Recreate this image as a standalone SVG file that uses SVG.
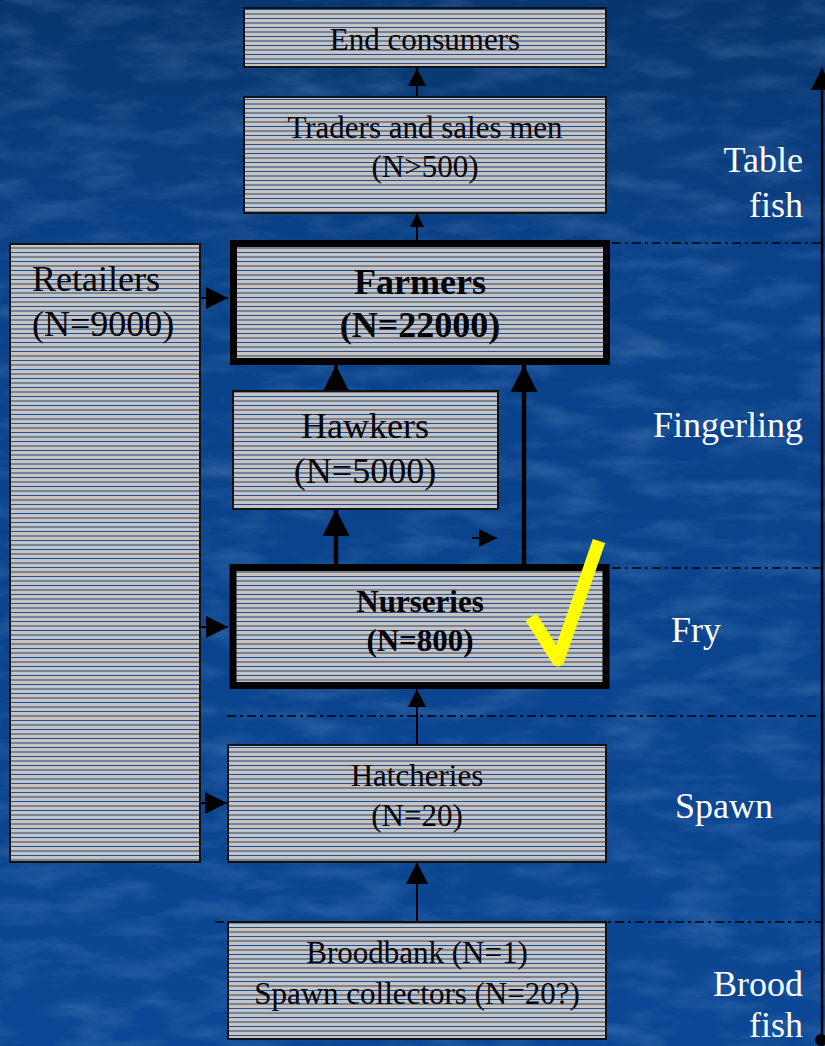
<svg xmlns="http://www.w3.org/2000/svg" width="825" height="1046" viewBox="0 0 825 1046">
<style>
.box{fill:url(#hatch);stroke:#111;stroke-width:2}
.bold{fill:url(#hatch);stroke:#000;stroke-width:7}
.t{font-family:"Liberation Serif","Times New Roman",serif;fill:#000;text-anchor:middle}
.s{font-size:31px}
.l{font-size:36px}
.b{font-weight:bold}
.w{font-family:"Liberation Serif","Times New Roman",serif;fill:#fff;font-size:36px}
.c{stroke:#000;fill:none}
.dd{stroke:#000;stroke-width:1.6;stroke-dasharray:9 4 3 4;fill:none}
</style>
<defs>
<linearGradient id="bg" x1="0" y1="0" x2="0" y2="1">
<stop offset="0" stop-color="#07366e"/>
<stop offset="0.25" stop-color="#0a4289"/>
<stop offset="1" stop-color="#0b4794"/>
</linearGradient>
<filter id="tex" x="0" y="0" width="100%" height="100%">
<feTurbulence type="fractalNoise" baseFrequency="0.015 0.05" numOctaves="4" seed="7"/>
<feColorMatrix type="matrix" values="0 0 0 0 0.4  0 0 0 0 0.6  0 0 0 0 0.9  0 0 0 1.3 -0.55"/>
</filter>
<pattern id="hatch" patternUnits="userSpaceOnUse" width="10" height="9">
<rect width="10" height="9" fill="#c4c4c4"/>
<rect y="0" width="10" height="1" fill="#1c4c9c"/>
<rect y="4.5" width="10" height="1" fill="#344058"/>
</pattern>
<marker id="m18" viewBox="0 0 20 20" refX="20" refY="10" markerWidth="18" markerHeight="18" markerUnits="userSpaceOnUse" orient="auto"><path d="M0,0 L20,10 L0,20 Z"/></marker>
<marker id="m14" viewBox="0 0 20 20" refX="20" refY="10" markerWidth="14" markerHeight="14" markerUnits="userSpaceOnUse" orient="auto"><path d="M0,0 L20,10 L0,20 Z"/></marker>
<marker id="m22" viewBox="0 0 20 20" refX="20" refY="10" markerWidth="22" markerHeight="22" markerUnits="userSpaceOnUse" orient="auto"><path d="M0,0 L20,10 L0,20 Z"/></marker>
<marker id="m27" viewBox="0 0 20 20" refX="20" refY="10" markerWidth="27" markerHeight="27" markerUnits="userSpaceOnUse" orient="auto"><path d="M0,0 L20,10 L0,20 Z"/></marker>
</defs>
<rect width="825" height="1046" fill="url(#bg)"/>
<rect width="825" height="1046" filter="url(#tex)" opacity="0.3"/>

<g id="dividers">
<line class="dd" x1="612" y1="243" x2="822" y2="243"/>
<line class="dd" x1="612" y1="568" x2="822" y2="568"/>
<line class="dd" x1="227" y1="716" x2="822" y2="716"/>
<line class="dd" x1="215" y1="922" x2="822" y2="922"/>
</g>

<g id="connectors">
<line class="c" stroke-width="2" x1="417" y1="97" x2="417" y2="68" marker-end="url(#m18)"/>
<line class="c" stroke-width="2" x1="417" y1="240" x2="417" y2="213" marker-end="url(#m14)"/>
<line class="c" stroke-width="2" x1="417" y1="745" x2="417" y2="689" marker-end="url(#m18)"/>
<line class="c" stroke-width="2" x1="417" y1="922" x2="417" y2="862" marker-end="url(#m22)"/>
<line class="c" stroke-width="2" x1="200" y1="298" x2="228" y2="298" marker-end="url(#m22)"/>
<line class="c" stroke-width="2" x1="200" y1="627" x2="228" y2="627" marker-end="url(#m22)"/>
<line class="c" stroke-width="2" x1="200" y1="803" x2="227" y2="803" marker-end="url(#m22)"/>
<line class="c" stroke-width="4" x1="336" y1="391" x2="336" y2="365" marker-end="url(#m27)"/>
<line class="c" stroke-width="4.5" x1="336" y1="565" x2="336" y2="509" marker-end="url(#m27)"/>
<line class="c" stroke-width="4.5" x1="524" y1="565" x2="524" y2="365" marker-end="url(#m27)"/>
<line class="c" stroke-width="2" x1="472" y1="538" x2="497" y2="538" marker-end="url(#m18)"/>
<line class="c" stroke-width="2.5" x1="822" y1="1040" x2="822" y2="68" marker-end="url(#m22)"/>
<circle cx="821" cy="1040" r="6" fill="#000"/>
</g>

<g id="end-consumers">
<rect class="box" x="244" y="8" width="362" height="59"/>
<text class="t s" x="425" y="50">End consumers</text>
</g>
<g id="traders">
<rect class="box" x="244" y="97" width="362" height="116"/>
<text class="t s" x="425" y="138">Traders and sales men</text>
<text class="t s" x="425" y="177">(N&gt;500)</text>
</g>
<g id="retailers">
<rect class="box" x="10" y="244" width="190" height="618"/>
<text class="t l" x="32" y="291" style="text-anchor:start">Retailers</text>
<text class="t l" x="32" y="336" style="text-anchor:start">(N=9000)</text>
</g>
<g id="farmers">
<rect class="bold" x="233.5" y="243.5" width="373" height="118"/>
<text class="t l b" x="420" y="294">Farmers</text>
<text class="t l b" x="420" y="337">(N=22000)</text>
</g>
<g id="hawkers">
<rect class="box" x="233" y="391" width="265" height="118"/>
<text class="t l" x="365" y="438">Hawkers</text>
<text class="t l" x="365" y="483">(N=5000)</text>
</g>
<g id="nurseries">
<rect class="bold" x="233" y="567.5" width="373" height="118"/>
<text class="t s b" x="420" y="612">Nurseries</text>
<text class="t s b" x="420" y="651">(N=800)</text>
</g>
<g id="hatcheries">
<rect class="box" x="228" y="745" width="378" height="117"/>
<text class="t s" x="417" y="786">Hatcheries</text>
<text class="t s" x="417" y="826">(N=20)</text>
</g>
<g id="broodbank">
<rect class="box" x="228" y="922" width="378" height="117"/>
<text class="t s" x="417" y="963">Broodbank (N=1)</text>
<text class="t s" x="417" y="1004">Spawn collectors (N=20?)</text>
</g>

<g id="checkmark">
<polyline points="531,617 558,660 599,541" fill="none" stroke="#ffff00" stroke-width="13" stroke-linejoin="round"/>
</g>

<g id="stage-labels">
<text class="w" x="803" y="172" text-anchor="end">Table</text>
<text class="w" x="803" y="217" text-anchor="end">fish</text>
<text class="w" x="803" y="437" text-anchor="end">Fingerling</text>
<text class="w" x="671" y="642">Fry</text>
<text class="w" x="675" y="818">Spawn</text>
<text class="w" x="803" y="996" text-anchor="end">Brood</text>
<text class="w" x="803" y="1037" text-anchor="end">fish</text>
</g>
</svg>
